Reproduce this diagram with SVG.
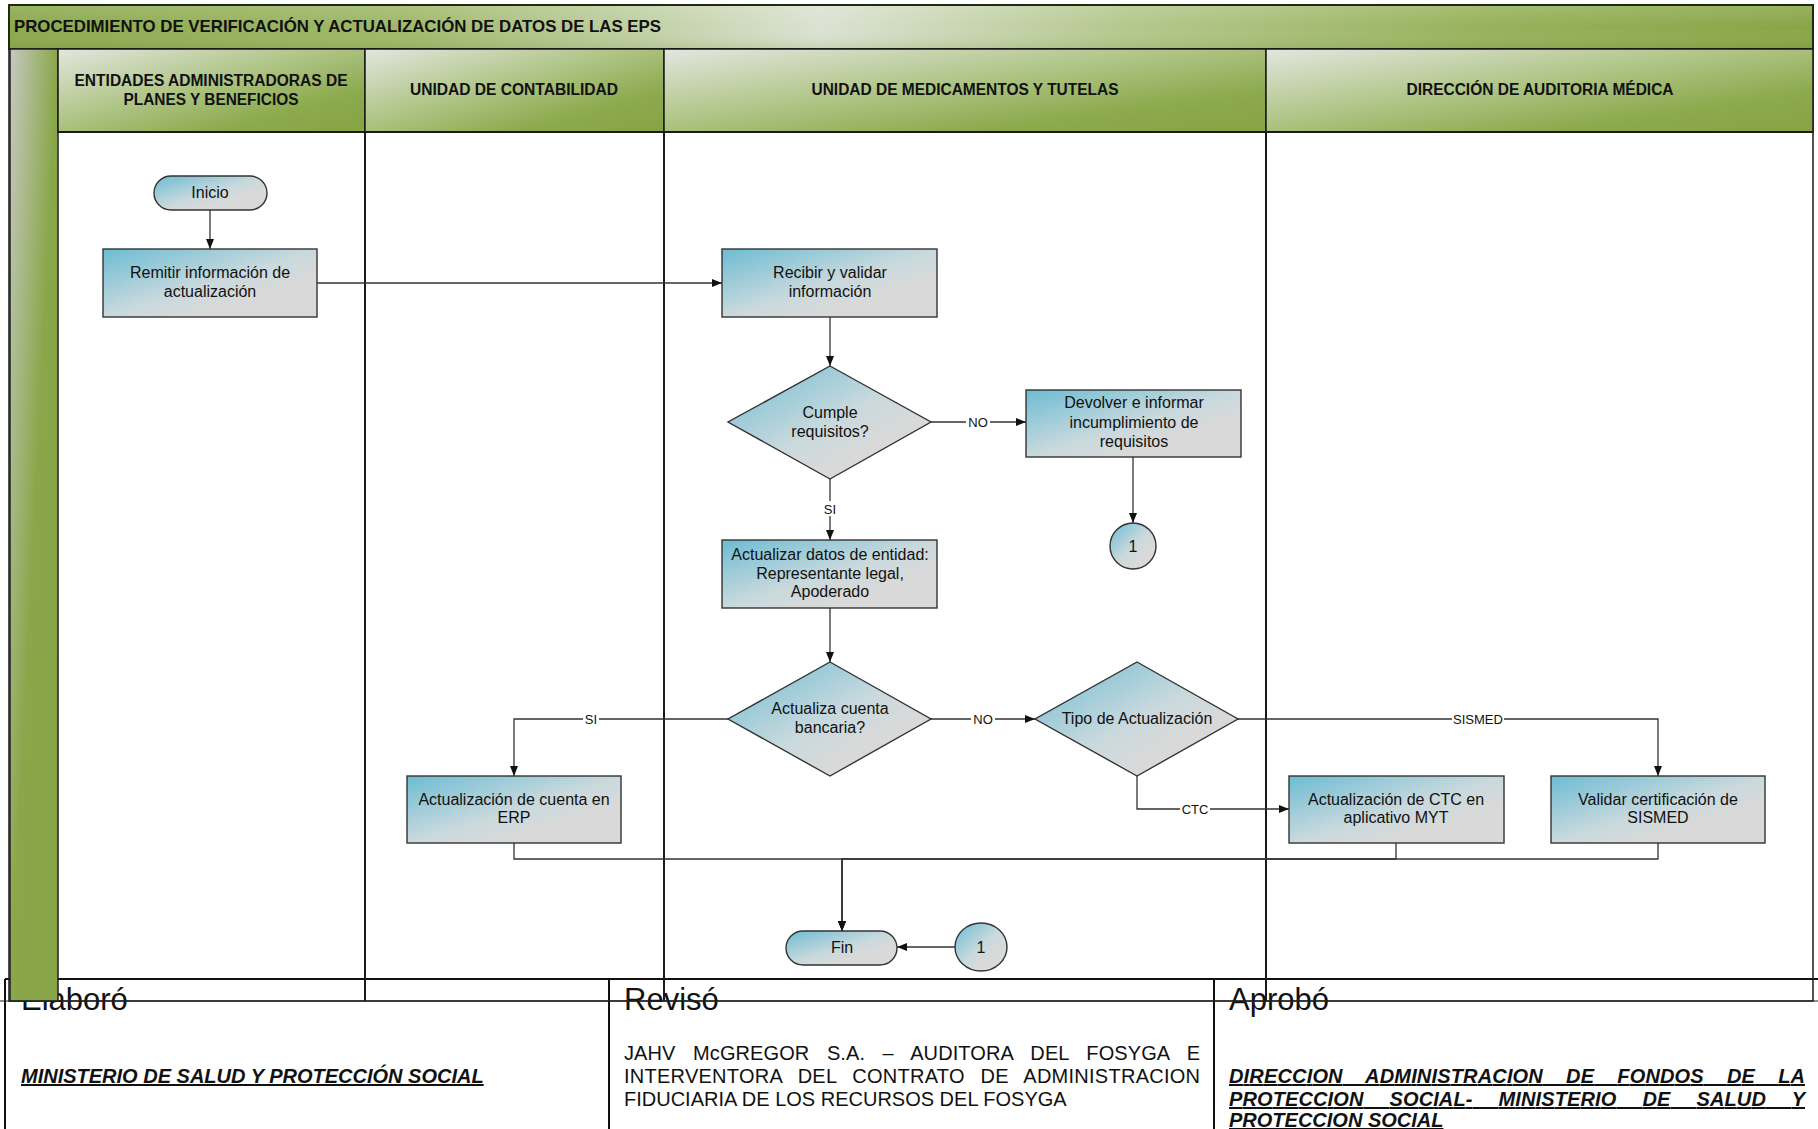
<svg xmlns="http://www.w3.org/2000/svg" width="1818" height="1129" viewBox="0 0 1818 1129">
<defs>
  <linearGradient id="gNode" x1="0" y1="0" x2="1" y2="1">
    <stop offset="0" stop-color="#6cbcd3"/>
    <stop offset="0.5" stop-color="#c9d9dd"/>
    <stop offset="0.7" stop-color="#d9d9d9"/>
    <stop offset="1" stop-color="#d9d9d9"/>
  </linearGradient>
  <linearGradient id="gHead" x1="0" y1="0" x2="1" y2="1">
    <stop offset="0" stop-color="#e3e6df"/>
    <stop offset="0.45" stop-color="#aec484"/>
    <stop offset="0.75" stop-color="#8caa4e"/>
    <stop offset="1" stop-color="#86a444"/>
  </linearGradient>
  <linearGradient id="gTitle" x1="0" y1="0" x2="1" y2="0">
    <stop offset="0" stop-color="#8aa84c"/>
    <stop offset="0.22" stop-color="#9fb868"/>
    <stop offset="0.45" stop-color="#dbe2d2"/>
    <stop offset="0.62" stop-color="#b4c78c"/>
    <stop offset="0.82" stop-color="#96b15a"/>
    <stop offset="1" stop-color="#87a546"/>
  </linearGradient>
  <linearGradient id="gTitleV" x1="0" y1="0" x2="0" y2="1">
    <stop offset="0" stop-color="#ffffff" stop-opacity="0.15"/>
    <stop offset="0.5" stop-color="#ffffff" stop-opacity="0"/>
    <stop offset="1" stop-color="#5a7a20" stop-opacity="0.15"/>
  </linearGradient>
  <linearGradient id="gStrip" x1="0" y1="0" x2="1" y2="1">
    <stop offset="0" stop-color="#c6c9c0"/>
    <stop offset="0.5" stop-color="#89a74a"/>
    <stop offset="1" stop-color="#87a546"/>
  </linearGradient>
  <marker id="arr" markerUnits="userSpaceOnUse" markerWidth="10" markerHeight="8" refX="10" refY="4" orient="auto">
    <path d="M0,0 L10,4 L0,8 z" fill="#111"/>
  </marker>
  <style>
    .node { fill: url(#gNode); stroke: #333; stroke-width: 1.4; }
    .nt { font-family: "Liberation Sans", Arial, sans-serif; font-size: 16px; fill: #111; text-anchor: middle; }
    .hd { font-family: "Liberation Sans", Arial, sans-serif; font-size: 16px; font-weight: bold; fill: #111; text-anchor: middle; }
    .conn { fill: none; stroke: #333; stroke-width: 1.3; }
    .lbl { font-family: "Liberation Sans", Arial, sans-serif; font-size: 13px; fill: #111; text-anchor: middle; }
    .lblbg { fill: #ffffff; }
    .lane { fill: none; stroke: #1a1a1a; stroke-width: 2; }
    .tb { stroke: #111; stroke-width: 2; fill: none; }
    .big { font-family: "Liberation Sans", Arial, sans-serif; font-size: 31px; fill: #111; }
    .body { font-family: "Liberation Sans", Arial, sans-serif; font-size: 20px; fill: #111; }
    .bi { font-family: "Liberation Sans", Arial, sans-serif; font-size: 20px; font-weight: bold; font-style: italic; fill: #111; text-decoration: underline; }
  </style>
</defs>
<rect x="0" y="0" width="1818" height="1129" fill="#ffffff"/>

<!-- Signature table (behind lanes) -->
<g id="signature-table">
  <line class="tb" x1="5" y1="979" x2="1818" y2="979"/>
  <line class="tb" x1="5" y1="979" x2="5" y2="1129"/>
  <line class="tb" x1="609" y1="979" x2="609" y2="1129"/>
  <line class="tb" x1="1214" y1="979" x2="1214" y2="1129"/>
  <text class="big" x="21" y="1010">Elaboró</text>
  <text class="big" x="624" y="1010">Revisó</text>
  <text class="big" x="1229" y="1010">Aprobó</text>
  <text class="bi" x="21" y="1083">MINISTERIO DE SALUD Y PROTECCIÓN SOCIAL</text>
  <text class="body" x="624" y="1060" word-spacing="11.8" textLength="576" lengthAdjust="spacing">JAHV McGREGOR S.A. – AUDITORA DEL FOSYGA E</text>
  <text class="body" x="624" y="1083" word-spacing="9.9" textLength="576" lengthAdjust="spacing">INTERVENTORA DEL CONTRATO DE ADMINISTRACION</text>
  <text class="body" x="624" y="1106">FIDUCIARIA DE LOS RECURSOS DEL FOSYGA</text>
  <text class="bi" x="1229" y="1083" word-spacing="17.4" textLength="576" lengthAdjust="spacing">DIRECCION ADMINISTRACION DE FONDOS DE LA</text>
  <text class="bi" x="1229" y="1106" word-spacing="20.4" textLength="576" lengthAdjust="spacing">PROTECCION SOCIAL- MINISTERIO DE SALUD Y</text>
  <text class="bi" x="1229" y="1127">PROTECCION SOCIAL</text>
</g>

<!-- Swimlane frame -->
<g id="pool">
  <rect x="9" y="5" width="1804" height="44" fill="url(#gTitle)"/>
  <rect x="9" y="5" width="1804" height="44" fill="url(#gTitleV)" stroke="#1f2a12" stroke-width="2"/>
  <text x="14" y="32" font-family="Liberation Sans, Arial, sans-serif" font-size="17" font-weight="bold" fill="#111" textLength="647" lengthAdjust="spacingAndGlyphs">PROCEDIMIENTO DE VERIFICACIÓN Y ACTUALIZACIÓN DE DATOS DE LAS EPS</text>
  <rect x="9" y="49" width="1804" height="952" fill="none" stroke="#1a1a1a" stroke-width="1.5"/>
  <rect x="10" y="49" width="48" height="952" fill="url(#gStrip)" stroke="#222" stroke-width="1.5"/>
</g>

<g id="lane-entidades">
  <rect x="58" y="49" width="307" height="83" fill="url(#gHead)" stroke="#1a1a1a" stroke-width="1.5"/>
  <text class="hd" x="211" y="86" textLength="273" lengthAdjust="spacingAndGlyphs">ENTIDADES ADMINISTRADORAS DE</text>
  <text class="hd" x="211" y="105" textLength="175" lengthAdjust="spacingAndGlyphs">PLANES Y BENEFICIOS</text>
</g>
<g id="lane-contabilidad">
  <rect x="365" y="49" width="299" height="83" fill="url(#gHead)" stroke="#1a1a1a" stroke-width="1.5"/>
  <text class="hd" x="514" y="95" textLength="208" lengthAdjust="spacingAndGlyphs">UNIDAD DE CONTABILIDAD</text>
</g>
<g id="lane-medicamentos">
  <rect x="664" y="49" width="602" height="83" fill="url(#gHead)" stroke="#1a1a1a" stroke-width="1.5"/>
  <text class="hd" x="965" y="95" textLength="307" lengthAdjust="spacingAndGlyphs">UNIDAD DE MEDICAMENTOS Y TUTELAS</text>
</g>
<g id="lane-direccion">
  <rect x="1266" y="49" width="547" height="83" fill="url(#gHead)" stroke="#1a1a1a" stroke-width="1.5"/>
  <text class="hd" x="1540" y="95" textLength="267" lengthAdjust="spacingAndGlyphs">DIRECCIÓN DE AUDITORIA MÉDICA</text>
</g>
<g id="lane-lines">
  <line class="lane" x1="365" y1="132" x2="365" y2="1001"/>
  <line class="lane" x1="664" y1="132" x2="664" y2="1001"/>
  <line class="lane" x1="1266" y1="132" x2="1266" y2="1001"/>
  <line x1="58" y1="132" x2="1813" y2="132" stroke="#1a1a1a" stroke-width="2"/>
  <line x1="0" y1="1001" x2="1818" y2="1001" stroke="#222" stroke-width="1.2"/>
</g>

<!-- Connectors -->
<g id="connectors">
  <path class="conn" d="M210,210 V249" marker-end="url(#arr)"/>
  <path class="conn" d="M317,283 H722" marker-end="url(#arr)"/>
  <path class="conn" d="M830,317 V366" marker-end="url(#arr)"/>
  <path class="conn" d="M931,422 H1026" marker-end="url(#arr)"/>
  <path class="conn" d="M1133,457 V523" marker-end="url(#arr)"/>
  <path class="conn" d="M830,479 V540" marker-end="url(#arr)"/>
  <path class="conn" d="M830,608 V662" marker-end="url(#arr)"/>
  <path class="conn" d="M728,719 H514 V776" marker-end="url(#arr)"/>
  <path class="conn" d="M931,719 H1035" marker-end="url(#arr)"/>
  <path class="conn" d="M1238,719 H1658 V776" marker-end="url(#arr)"/>
  <path class="conn" d="M1137,776 V809 H1289" marker-end="url(#arr)"/>
  <path class="conn" d="M514,843 V859 H842 V931" marker-end="url(#arr)"/>
  <path class="conn" d="M1396,843 V859 H842 V931" marker-end="url(#arr)"/>
  <path class="conn" d="M1658,843 V859 H842 V931" marker-end="url(#arr)"/>
  <path class="conn" d="M955,947 H897" marker-end="url(#arr)"/>
  <rect class="lblbg" x="966" y="414" width="24" height="15"/>
  <text class="lbl" x="978" y="427">NO</text>
  <rect class="lblbg" x="822" y="501" width="16" height="15"/>
  <text class="lbl" x="830" y="514">SI</text>
  <rect class="lblbg" x="583" y="711" width="16" height="15"/>
  <text class="lbl" x="591" y="724">SI</text>
  <rect class="lblbg" x="971" y="711" width="24" height="15"/>
  <text class="lbl" x="983" y="724">NO</text>
  <rect class="lblbg" x="1452" y="711" width="52" height="15"/>
  <text class="lbl" x="1478" y="724">SISMED</text>
  <rect class="lblbg" x="1180" y="801" width="30" height="15"/>
  <text class="lbl" x="1195" y="814">CTC</text>
</g>

<!-- Nodes -->
<g id="inicio">
  <rect class="node" x="154" y="176" width="113" height="34" rx="17"/>
  <text class="nt" x="210" y="198">Inicio</text>
</g>
<g id="remitir">
  <rect class="node" x="103" y="249" width="214" height="68"/>
  <text class="nt" x="210" y="278">Remitir información de</text>
  <text class="nt" x="210" y="297">actualización</text>
</g>
<g id="recibir">
  <rect class="node" x="722" y="249" width="215" height="68"/>
  <text class="nt" x="830" y="278">Recibir y validar</text>
  <text class="nt" x="830" y="297">información</text>
</g>
<g id="cumple">
  <polygon class="node" points="830,366 931,422 830,479 728,422"/>
  <text class="nt" x="830" y="418">Cumple</text>
  <text class="nt" x="830" y="437">requisitos?</text>
</g>
<g id="devolver">
  <rect class="node" x="1026" y="390" width="215" height="67"/>
  <text class="nt" x="1134" y="408">Devolver e informar</text>
  <text class="nt" x="1134" y="428">incumplimiento de</text>
  <text class="nt" x="1134" y="447">requisitos</text>
</g>
<g id="conector-1a">
  <ellipse class="node" cx="1133" cy="546" rx="23" ry="23"/>
  <text class="nt" x="1133" y="552">1</text>
</g>
<g id="actualizar-datos">
  <rect class="node" x="722" y="540" width="215" height="68"/>
  <text class="nt" x="830" y="560">Actualizar datos de entidad:</text>
  <text class="nt" x="830" y="579">Representante legal,</text>
  <text class="nt" x="830" y="597">Apoderado</text>
</g>
<g id="actualiza-cuenta">
  <polygon class="node" points="830,662 931,719 830,776 728,719"/>
  <text class="nt" x="830" y="714">Actualiza cuenta</text>
  <text class="nt" x="830" y="733">bancaria?</text>
</g>
<g id="tipo">
  <polygon class="node" points="1137,662 1238,719 1137,776 1035,719"/>
  <text class="nt" x="1137" y="724">Tipo de Actualización</text>
</g>
<g id="erp">
  <rect class="node" x="407" y="776" width="214" height="67"/>
  <text class="nt" x="514" y="805">Actualización de cuenta en</text>
  <text class="nt" x="514" y="823">ERP</text>
</g>
<g id="ctc">
  <rect class="node" x="1289" y="776" width="215" height="67"/>
  <text class="nt" x="1396" y="805">Actualización de CTC en</text>
  <text class="nt" x="1396" y="823">aplicativo MYT</text>
</g>
<g id="sismed">
  <rect class="node" x="1551" y="776" width="214" height="67"/>
  <text class="nt" x="1658" y="805">Validar certificación de</text>
  <text class="nt" x="1658" y="823">SISMED</text>
</g>
<g id="fin">
  <rect class="node" x="786" y="931" width="111" height="34" rx="17"/>
  <text class="nt" x="842" y="953">Fin</text>
</g>
<g id="conector-1b">
  <ellipse class="node" cx="981" cy="947" rx="26" ry="24"/>
  <text class="nt" x="981" y="953">1</text>
</g>
</svg>
